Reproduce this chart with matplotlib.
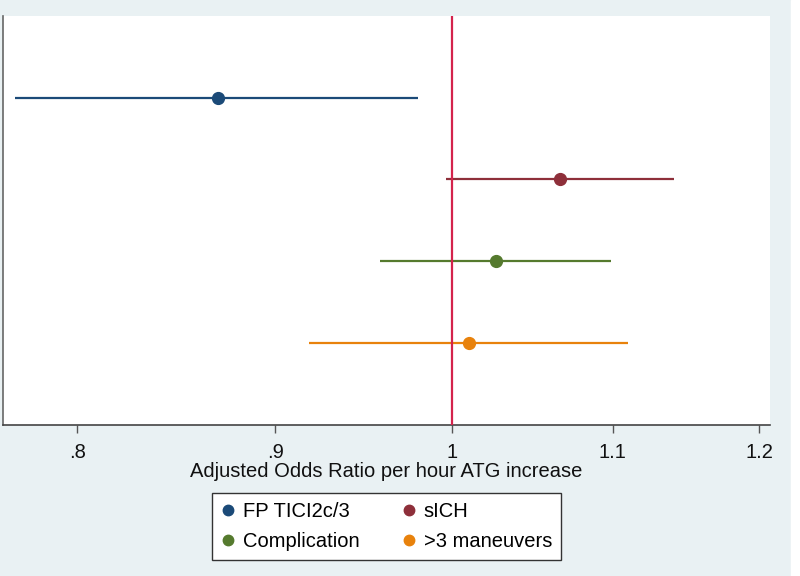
import matplotlib
matplotlib.use("Agg")
import matplotlib.pyplot as plt
from matplotlib.ticker import FixedLocator, FixedFormatter, NullLocator
from matplotlib.lines import Line2D
from matplotlib.patches import Rectangle

plt.rcParams['font.family'] = ['Liberation Sans', 'DejaVu Sans']

# Data
labels = ["FP TICI2c/3", "sICH", "Complication", ">3 maneuvers"]
odds_ratio = [0.870, 1.066, 1.026, 1.010]
ci_low = [0.771, 0.996, 0.958, 0.918]
ci_high = [0.980, 1.141, 1.099, 1.110]
y_pos = [4, 3, 2, 1]
colors = ["#1b4a78", "#8e2f3a", "#557a2e", "#e8820c"]
tick_vals = [0.8, 0.9, 1.0, 1.1, 1.2]
tick_labels = [".8", ".9", "1", "1.1", "1.2"]
ref_value = 1.0

bg = "#e9f1f3"
fig = plt.figure(figsize=(8, 5.76), dpi=100, facecolor=bg)
ax = fig.add_axes([0.0034, 0.2622, 0.9591, 0.7105])
ax.set_facecolor("white")

ax.set_xscale("log")
ax.set_xlim(0.7654, 1.2078)
ax.set_ylim(0, 5)

for lab, orv, lo, hi, y, c in zip(labels, odds_ratio, ci_low, ci_high, y_pos, colors):
    ax.hlines(y, lo, hi, color=c, lw=1.6, zorder=2)
    ax.plot([orv], [y], 'o', color=c, ms=8.5, zorder=3)

ax.axvline(ref_value, color="#d4234c", lw=1.6, zorder=4)

ax.xaxis.set_major_locator(FixedLocator(tick_vals))
ax.xaxis.set_major_formatter(FixedFormatter(tick_labels))
ax.xaxis.set_minor_locator(NullLocator())
ax.yaxis.set_major_locator(NullLocator())
ax.yaxis.set_minor_locator(NullLocator())
ax.tick_params(axis='x', direction='out', length=6, width=1, color="#555555",
               labelsize=14.5, pad=7, labelcolor="#111111")

for s in ["top", "right"]:
    ax.spines[s].set_visible(False)
ax.spines["left"].set_color("#666666")
ax.spines["bottom"].set_color("#444444")
ax.spines["left"].set_linewidth(1.2)
ax.spines["bottom"].set_linewidth(1.2)

ax.set_xlabel("Adjusted Odds Ratio per hour ATG increase", fontsize=14.5,
              labelpad=0, color="#111111")

# legend: matplotlib fills column-wise, reference reads row-wise
order = [0, 2, 1, 3]
handles = [Line2D([], [], marker='o', ls='none', color=colors[i], ms=7.5) for i in order]
leg_labels = [labels[i] for i in order]
leg = fig.legend(handles, leg_labels, ncol=2, loc='upper center',
                 bbox_to_anchor=(0.483, 0.1441), borderaxespad=0,
                 fontsize=14.5, frameon=True,
                 fancybox=False, edgecolor="#333333", facecolor="white",
                 framealpha=1, borderpad=0.45, handletextpad=0.4,
                 columnspacing=2.1, labelspacing=0.55, handlelength=0.7)
leg.get_frame().set_linewidth(1.0)

fig.add_artist(Rectangle((791 / 800, 0), 9 / 800, 1, transform=fig.transFigure,
                         color="white", zorder=0))

fig.savefig("out.png", dpi=100, facecolor=bg)
